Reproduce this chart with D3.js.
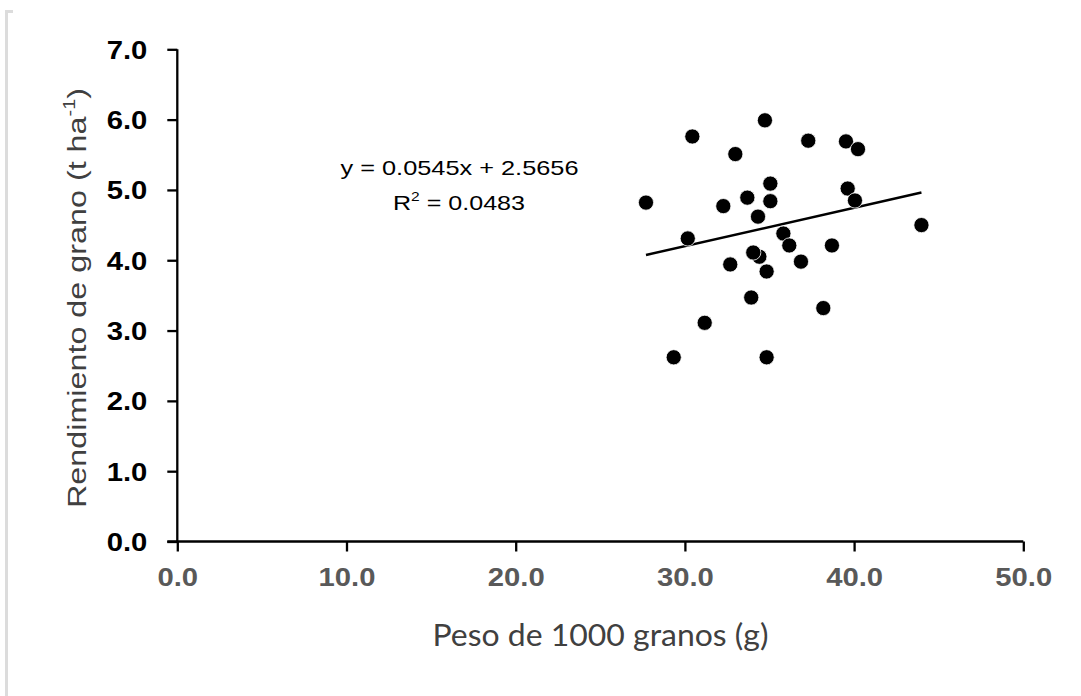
<!DOCTYPE html>
<html>
<head>
<meta charset="utf-8">
<script src="https://cdn.jsdelivr.net/npm/d3@7/dist/d3.min.js"></script>
<style>
  html, body { margin: 0; padding: 0; background: #fff; }
  svg { display: block; }
</style>
</head>
<body>
<svg id="chart" width="1081" height="696"></svg>
<script>
// ---- data ----
const pesoMilGranos = [34.73, 30.44, 37.29, 39.52, 40.23, 32.98, 35.05, 39.62, 27.70, 32.27,
  33.69, 35.05, 40.05, 34.32, 43.98, 30.17, 35.82, 36.17, 38.69, 34.40,
  34.04, 32.68, 36.86, 34.83, 33.92, 38.18, 31.17, 29.34, 34.83];
const rendimiento = [5.99, 5.76, 5.70, 5.69, 5.58, 5.51, 5.09, 5.02, 4.82, 4.77,
  4.89, 4.84, 4.85, 4.62, 4.50, 4.31, 4.38, 4.21, 4.21, 4.05,
  4.11, 3.94, 3.98, 3.84, 3.47, 3.32, 3.11, 2.62, 2.62];
const xTicks = [0, 10, 20, 30, 40, 50];
const yTicks = [0, 1, 2, 3, 4, 5, 6, 7];
const slope = 0.0545;
const intercept = 2.5656;
const equationLabel = "y = 0.0545x + 2.5656";
const r2Value = "0.0483";
const xTitle = "Peso de 1000 granos (g)";
const yTitle = "Rendimiento de grano (t ha";

// ---- layout ----
const svg = d3.select("#chart");
const mLeft = 177.3, mRight = 1023.3, mTop = 49.3, mBottom = 541.5;
const x = d3.scaleLinear().domain([0, 50]).range([mLeft, mRight]);
const y = d3.scaleLinear().domain([0, 7]).range([mBottom, mTop]);
const stretch = 1.17;
function widen(sel, k) {
  sel.each(function () {
    const w = this.getComputedTextLength();
    d3.select(this).attr("textLength", w * k).attr("lengthAdjust", "spacingAndGlyphs");
  });
}

// frame border on the left
svg.append("path")
  .attr("d", "M13,11.5 H6.5 V696")
  .attr("fill", "none").attr("stroke", "#dcdcdc").attr("stroke-width", 3);

// x axis
const xAxis = svg.append("g")
  .attr("transform", `translate(0,${mBottom})`)
  .call(d3.axisBottom(x).tickValues(xTicks).tickFormat(d3.format(".1f")).tickSizeInner(10).tickSizeOuter(0).tickPadding(17));
xAxis.select(".domain").attr("d", `M${mLeft - 10},0 H${mRight}`);
xAxis.selectAll("path, line").attr("stroke", "#000").attr("stroke-width", 2.3);
xAxis.selectAll("text")
  .attr("fill", "#595959")
  .attr("font-family", "'Liberation Sans', Arial, sans-serif")
  .attr("font-weight", "bold")
  .attr("font-size", 25)
  .attr("dy", "0.71em")
  .call(widen, stretch);

// y axis
const yAxis = svg.append("g")
  .attr("transform", `translate(${mLeft},0)`)
  .call(d3.axisLeft(y).tickValues(yTicks).tickFormat(d3.format(".1f")).tickSizeInner(10).tickSizeOuter(0).tickPadding(20));
yAxis.select(".domain").attr("d", `M0,${mBottom} V${mTop}`);
yAxis.selectAll("path, line").attr("stroke", "#000").attr("stroke-width", 2.3);
yAxis.selectAll("text")
  .attr("fill", "#000")
  .attr("font-family", "'Liberation Sans', Arial, sans-serif")
  .attr("font-weight", "bold")
  .attr("font-size", 25)
  .attr("dy", "0.36em")
  .call(widen, stretch);

// trend line
const xExt = d3.extent(pesoMilGranos);
svg.append("line")
  .attr("x1", x(xExt[0])).attr("y1", y(slope * xExt[0] + intercept))
  .attr("x2", x(xExt[1])).attr("y2", y(slope * xExt[1] + intercept))
  .attr("stroke", "#000").attr("stroke-width", 2.5);

// points
svg.append("g").selectAll("circle")
  .data(pesoMilGranos.map((v, i) => [v, rendimiento[i]]))
  .join("circle")
  .attr("cx", d => x(d[0])).attr("cy", d => y(d[1]))
  .attr("r", 7.6)
  .attr("fill", "#000").attr("stroke", "#fff").attr("stroke-width", 0.8);

// equation
const eq = svg.append("g").attr("font-family", "'Liberation Sans', Arial, sans-serif").attr("fill", "#000");
eq.append("text").attr("x", 459.5).attr("y", 175).attr("text-anchor", "middle").attr("font-size", 21)
  .text(equationLabel)
  .attr("textLength", 238).attr("lengthAdjust", "spacingAndGlyphs");
const r2 = eq.append("text").attr("x", 459).attr("y", 210).attr("text-anchor", "middle").attr("font-size", 21)
  .attr("textLength", 132).attr("lengthAdjust", "spacingAndGlyphs");
r2.append("tspan").text("R");
r2.append("tspan").attr("font-size", 13).attr("dy", -9).text("2");
r2.append("tspan").attr("dy", 9).text(" = " + r2Value);

// axis titles
svg.append("text")
  .attr("x", 600.5).attr("y", 646)
  .attr("text-anchor", "middle")
  .attr("font-family", "Lato, 'Open Sans', sans-serif")
  .attr("font-size", 30)
  .attr("fill", "#404040")
  .text(xTitle)
  .attr("textLength", 336).attr("lengthAdjust", "spacingAndGlyphs");

const yt = svg.append("text")
  .attr("transform", `translate(86,298) rotate(-90)`)
  .attr("text-anchor", "middle")
  .attr("font-family", "'Liberation Sans', Arial, sans-serif")
  .attr("font-size", 26)
  .attr("fill", "#404040")
  .attr("textLength", 420).attr("lengthAdjust", "spacingAndGlyphs");
yt.append("tspan").text(yTitle);
yt.append("tspan").attr("font-size", 16).attr("dy", -11).text("-1");
yt.append("tspan").attr("dy", 11).text(")");
</script>
</body>
</html>
